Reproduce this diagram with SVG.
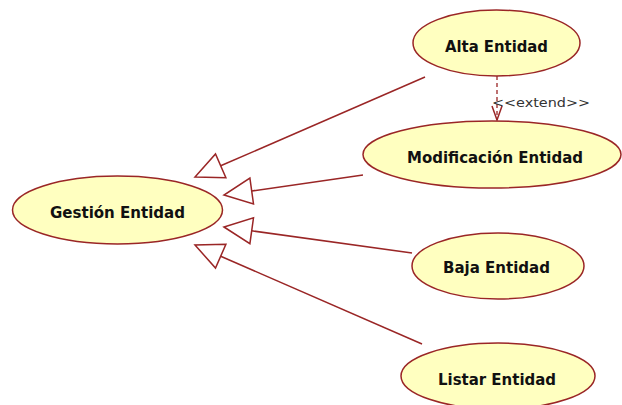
<svg xmlns="http://www.w3.org/2000/svg" width="622" height="405" viewBox="0 0 622 405">
  <style>
    .uc { fill: #FFFFC0; stroke: #9A2626; stroke-width: 1.5; }
    .lbl { font-family: "DejaVu Sans", Verdana, sans-serif; font-weight: bold; font-size: 16px; fill: #111; text-anchor: middle; }
    .gen { stroke: #9A2626; stroke-width: 1.5; fill: none; }
    .head { stroke: #9A2626; stroke-width: 1.5; fill: #FFFFFF; stroke-linejoin: miter; }
    .ext { stroke: #9A2626; stroke-width: 1.3; fill: none; stroke-dasharray: 4 3; }
    .stereo { font-family: "DejaVu Sans", Verdana, sans-serif; font-size: 13px; fill: #333; }
  </style>
  <rect width="622" height="405" fill="#FFFFFF"/>

  <!-- connectors: generalizations and the extend relation -->
  <g id="connectors">
    <line class="gen" x1="220.7" y1="165.8" x2="425" y2="77"/>
    <polygon class="head" points="195,177 225.9,177.7 215.5,153.9"/>

    <line class="gen" x1="251.7" y1="191" x2="363" y2="175"/>
    <polygon class="head" points="224,195 253.5,203.9 249.9,178.1"/>

    <line class="gen" x1="251.7" y1="230.8" x2="412" y2="253"/>
    <polygon class="head" points="224,227 249.9,243.7 253.5,217.9"/>

    <line class="gen" x1="220.7" y1="256.2" x2="422" y2="344"/>
    <polygon class="head" points="195,245 215.5,268.1 225.9,244.3"/>

    <line class="ext" x1="497" y1="76" x2="497" y2="120"/>
    <polyline class="gen" points="492,106 497,120 502,106" stroke-width="1.3"/>
    <text class="stereo" x="492" y="106.5" textLength="98" lengthAdjust="spacingAndGlyphs">&lt;&lt;extend&gt;&gt;</text>
  </g>

  <g id="gestion">
    <ellipse class="uc" cx="117.5" cy="210" rx="105" ry="34"/>
    <text class="lbl" x="117.5" y="218" textLength="135" lengthAdjust="spacingAndGlyphs">Gestión Entidad</text>
  </g>

  <g id="alta">
    <ellipse class="uc" cx="496.5" cy="43" rx="83.5" ry="33"/>
    <text class="lbl" x="496.5" y="52" textLength="103" lengthAdjust="spacingAndGlyphs">Alta Entidad</text>
  </g>

  <g id="modificacion">
    <ellipse class="uc" cx="492" cy="154.5" rx="129" ry="33.5"/>
    <text class="lbl" x="495" y="163" textLength="176" lengthAdjust="spacingAndGlyphs">Modificación Entidad</text>
  </g>

  <g id="baja">
    <ellipse class="uc" cx="498" cy="266" rx="86" ry="33"/>
    <text class="lbl" x="496.5" y="273" textLength="107" lengthAdjust="spacingAndGlyphs">Baja Entidad</text>
  </g>

  <g id="listar">
    <ellipse class="uc" cx="498" cy="376" rx="97" ry="33"/>
    <text class="lbl" x="497" y="385" textLength="118" lengthAdjust="spacingAndGlyphs">Listar Entidad</text>
  </g>
</svg>
